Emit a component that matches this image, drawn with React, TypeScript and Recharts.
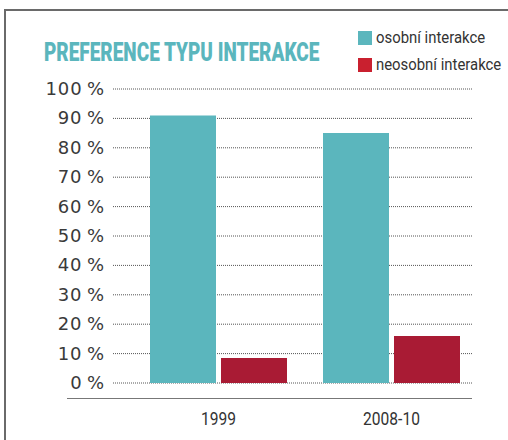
import React from 'react';
import { BarChart, Bar, XAxis, YAxis, CartesianGrid } from 'recharts';

const periods = ['1999', '2008-10'];
const osobni = [91, 85];
const neosobni = [8.5, 16];
const yTicks = [0, 10, 20, 30, 40, 50, 60, 70, 80, 90, 100];

const data = periods.map((p, i) => ({ period: p, osobni: osobni[i], neosobni: neosobni[i] }));

const TEAL = '#5bb6bd';
const RED = '#a91b34';
const narrow = 'Roboto, sans-serif';

const YTick = (props: any) => {
  const { x, y, payload } = props;
  return (
    <text x={x} y={y} dy={6} textAnchor="end" fontSize={18} fill="#3a3a3a" letterSpacing={0.9} fontFamily='"DejaVu Sans", sans-serif'>
      {payload.value}{'\u2009'}%
    </text>
  );
};

const XTick = (props: any) => {
  const { x, y, payload } = props;
  return (
    <g transform={`translate(${x},${y + 34}) scale(0.82,1)`}>
      <text x={0} y={0} textAnchor="middle" fontSize={19} fill="#333" fontFamily={narrow}>
        {payload.value}
      </text>
    </g>
  );
};

export default function App() {
  return (
    <div style={{ position: 'absolute', left: 0, top: 0, width: 508, height: 440, background: '#fff', overflow: 'hidden' }}>
      {/* frame */}
      <div style={{ position: 'absolute', left: 4, top: 9, width: 520, height: 460, border: '2px solid #6a6a6a', boxSizing: 'border-box' }} />
      <div style={{ position: 'absolute', left: 44, top: 37, fontFamily: narrow, fontWeight: 900, fontSize: 26, color: TEAL, whiteSpace: 'nowrap', transform: 'scaleX(0.73)', transformOrigin: 'left top' }}>
        PREFERENCE TYPU INTERAKCE
      </div>
      {/* legend */}
      <div style={{ position: 'absolute', left: 358, top: 31, width: 14, height: 14, background: TEAL }} />
      <div style={{ position: 'absolute', left: 376, top: 28, fontFamily: narrow, fontSize: 16, color: '#333', whiteSpace: 'nowrap', transform: 'scaleX(0.93)', transformOrigin: 'left top' }}>osobní interakce</div>
      <div style={{ position: 'absolute', left: 358, top: 58, width: 14, height: 14, background: '#c9202f' }} />
      <div style={{ position: 'absolute', left: 376, top: 55, fontFamily: narrow, fontSize: 16, color: '#333', whiteSpace: 'nowrap', transform: 'scaleX(0.93)', transformOrigin: 'left top' }}>neosobní interakce</div>
      {/* x axis baseline */}
      <div style={{ position: 'absolute', left: 67, top: 398, width: 405, height: 1, background: '#777' }} />
      <div style={{ position: 'absolute', left: 0, top: 0 }}>
        <BarChart width={508} height={440} data={data} margin={{ top: 89, right: 35, bottom: 27, left: 53 }} barGap={5} barSize={66}>
          <CartesianGrid vertical={false} stroke="#555" strokeDasharray="1 1" />
          <XAxis dataKey="period" axisLine={false} tickLine={false} height={30} tick={<XTick />} padding={{ left: 19, right: -5 }} />
          <YAxis domain={[0, 100]} ticks={yTicks} axisLine={false} tickLine={false} width={60} tick={<YTick />} interval={0} />
          <Bar dataKey="osobni" fill={TEAL} isAnimationActive={false} />
          <Bar dataKey="neosobni" fill={RED} isAnimationActive={false} />
        </BarChart>
      </div>
    </div>
  );
}
